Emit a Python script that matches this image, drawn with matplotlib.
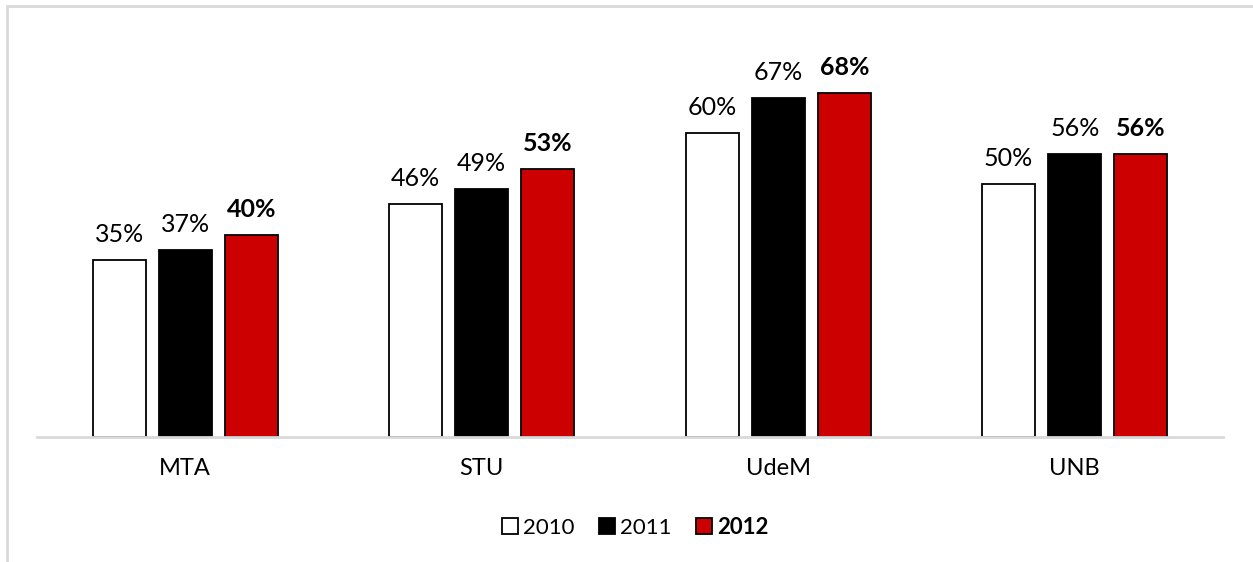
import matplotlib.pyplot as plt
import numpy as np
from matplotlib.patches import Rectangle

categories = ['MTA', 'STU', 'UdeM', 'UNB']
years = ['2010', '2011', '2012']
v2010 = [35, 46, 60, 50]
v2011 = [37, 49, 67, 56]
v2012 = [40, 53, 68, 56]

plt.rcParams['font.family'] = ['Lato', 'DejaVu Sans']

fig = plt.figure(figsize=(12.53, 5.62), dpi=100)
ax = fig.add_axes([37 / 1253, 1 - 437 / 562, (1223 - 37) / 1253, 405 / 562])

# light gray frame around the chart area
fig.patches.append(Rectangle((7 / 1253, -0.1), 1.2, 1 - 6 / 562 + 0.1,
                             transform=fig.transFigure, fill=False,
                             edgecolor='#d9d9d9', linewidth=2))

x = np.arange(len(categories))
width = 0.179
step = 0.223
series = [(v2010, 'white', False), (v2011, 'black', False), (v2012, '#cc0000', True)]

for i, (vals, color, bold) in enumerate(series):
    pos = x + (i - 1) * step
    ax.bar(pos, vals, width, color=color, edgecolor='black', linewidth=1.3,
           label=years[i])
    for p, v in zip(pos, vals):
        ax.annotate('{0}%'.format(v), (p, v), xytext=(0, 10),
                    textcoords='offset points', ha='center', va='bottom',
                    fontsize=18, color='black',
                    fontweight='bold' if bold else 'normal')

ax.set_xlim(-0.5, len(categories) - 0.5)
ax.set_ylim(0, 80)
ax.set_xticks(x)
ax.set_xticklabels(categories, fontsize=17)
ax.tick_params(axis='x', length=0, pad=15)
ax.set_yticks([])
for s in ['top', 'right', 'left']:
    ax.spines[s].set_visible(False)
ax.spines['bottom'].set_color('#d9d9d9')
ax.spines['bottom'].set_linewidth(2)

leg = fig.legend(loc='center', bbox_to_anchor=(635 / 1253, 1 - 527 / 562),
                 ncol=3, frameon=False, fontsize=16, handlelength=0.75,
                 handleheight=0.75, handletextpad=0.2, columnspacing=1.1)
leg.get_texts()[2].set_fontweight('bold')

fig.savefig('out.png', dpi=100)
